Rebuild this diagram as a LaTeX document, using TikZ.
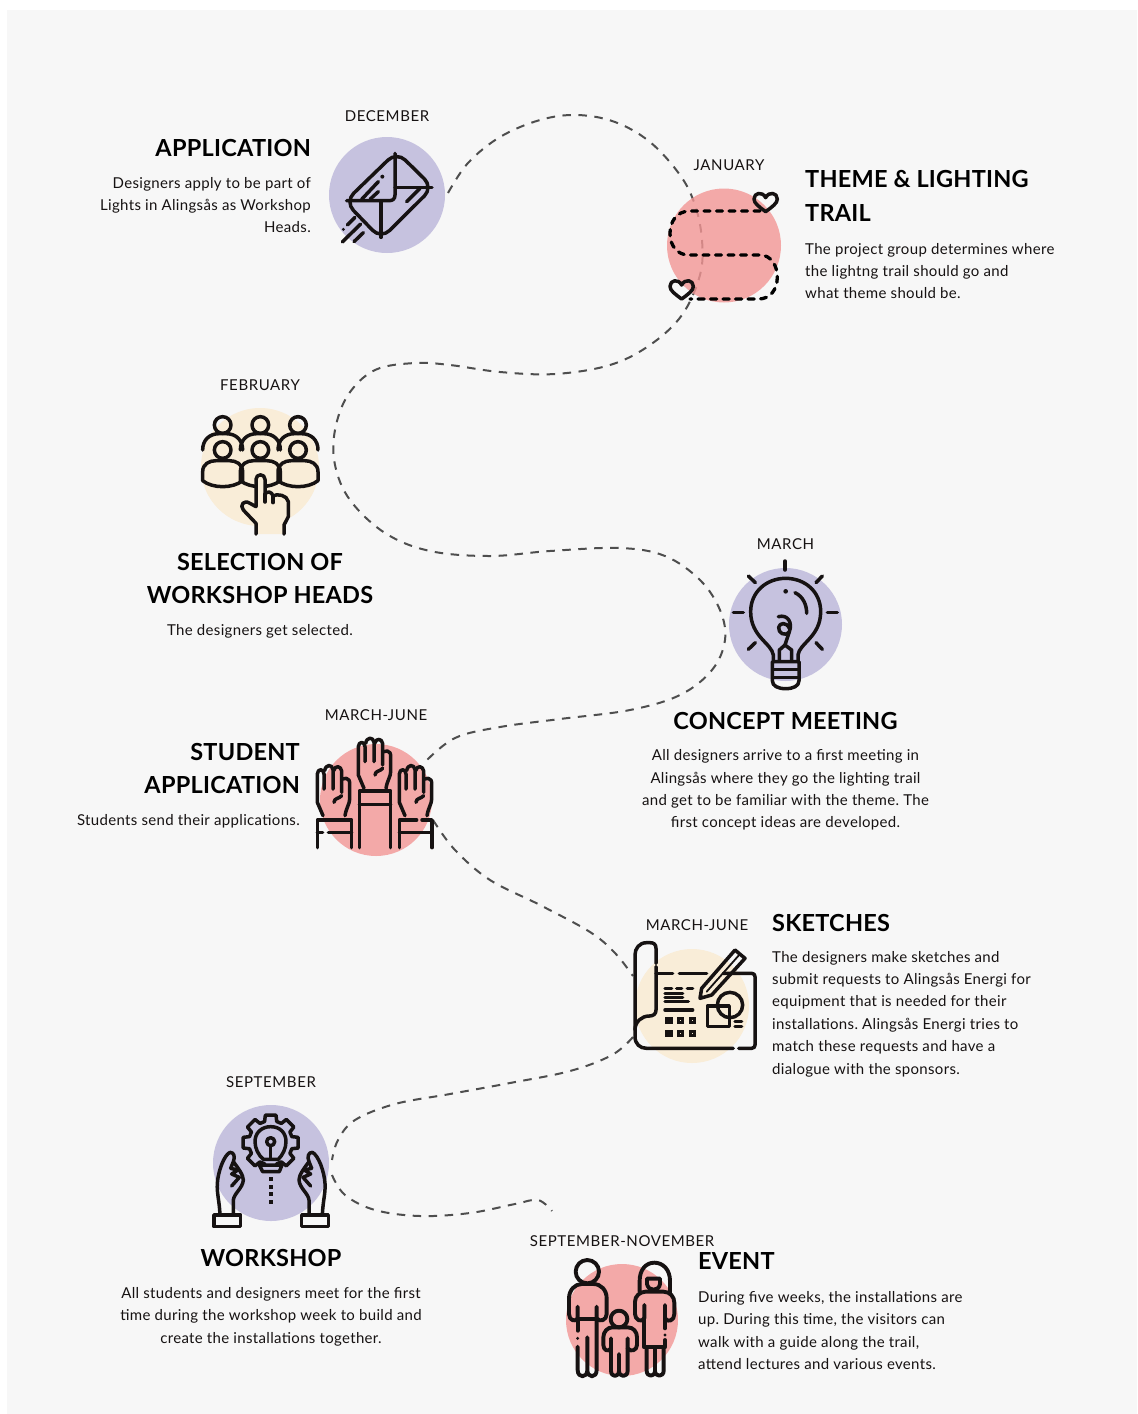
\documentclass[tikz,border=0pt]{standalone}
\usepackage{fontspec}
\setmainfont{Lato}
\newfontfamily\bodyfont[LetterSpace=2.2]{Lato}
\newfontfamily\monthfont[LetterSpace=4]{Lato}
\newfontfamily\headfont[LetterSpace=1.0]{Lato}
\frenchspacing
\definecolor{panel}{HTML}{F7F7F7}
\definecolor{lav}{HTML}{C6C2DF}
\definecolor{pinkc}{HTML}{F39695}
\definecolor{cream}{HTML}{F9EDD8}
\definecolor{ink}{HTML}{161212}
\definecolor{trailc}{HTML}{4E4E4E}
\tikzset{
  ico/.style={draw=ink,line width=3.5pt,line cap=round,line join=round},
  fam/.style={ico,line width=3.9pt},
  dot/.style={fill=ink,draw=none},
  trail/.style={draw=trailc,line width=2pt,dash pattern=on 8.5pt off 7.5pt,smooth,tension=0.6},
  disc/.style={circle,draw=none,inner sep=0pt,minimum size=#1},
  month/.style={font=\monthfont\fontsize{15}{16}\selectfont,text=ink,inner sep=0pt},
  head/.style={font=\headfont\fontsize{23.5}{33.6}\selectfont\bfseries,text=black,inner sep=0pt},
  bodyt/.style={font=\bodyfont\fontsize{15}{22.4}\selectfont,text=ink,inner sep=0pt},
}
\newcommand{\heartshape}[2]{%
  \draw[ico,shift={(#1,#2)}] (0,30) .. controls (-20,15) and (-35,5) .. (-35,-8) .. controls (-35,-27) and (-10,-32) .. (0,-12) .. controls (10,-32) and (35,-27) .. (35,-8) .. controls (35,5) and (20,15) .. (0,30) -- cycle;}
\newcommand{\raisedhand}{%
  \draw[ico] (192,190) -- (175,150) -- (175,65) .. controls (176,48) and (194,48) .. (195,65) -- (195,110);
  \draw[ico] (197,55) .. controls (200,35) and (220,35) .. (222,52) -- (222,110);
  \draw[ico] (224,55) .. controls (228,38) and (246,40) .. (248,56) -- (248,120);
  \draw[ico] (250,80) -- (262,78) .. controls (270,80) and (272,85) .. (272,95) -- (272,140) .. controls (272,155) and (262,165) .. (258,190);
  \draw[ico] (248,130) .. controls (240,140) and (226,136) .. (225,150);
}
\newcommand{\wshand}{%
  \draw[ico] (42,345) rectangle (122,380);
  \fill[panel] (50,352) rectangle (114,373);
  \draw[ico] (60,345) .. controls (58,300) and (50,280) .. (52,250) .. controls (54,215) and (72,165) .. (90,157) .. controls (102,157) and (106,170) .. (100,185) -- (92,205);
  \draw[ico] (100,185) .. controls (115,205) and (130,225) .. (130,240) .. controls (128,265) and (102,280) .. (100,300) -- (100,345);
  \draw[ico] (92,205) -- (114,210) -- (95,222) -- (118,232) -- (95,258);
}
\begin{document}
\begin{tikzpicture}[x=1pt,y=-1pt]
\useasboundingbox (0,0) rectangle (1138,1414);
\fill[white] (0,0) rectangle (1138,1414);
\fill[panel] (7,10) rectangle (1137,1414);
% trail
\draw[trail] plot coordinates {(448,193) (468,163) (500,137) (540,120) (577,115) (615,122) (650,142) (680,175) (695,205) (702,240) (700,275) (682,315) (650,345) (610,365) (555,374) (500,372) (450,365) (415,363) (375,370) (348,395) (335,430) (335,465) (350,500) (385,533) (430,551) (490,556) (550,551) (620,548) (665,556) (700,580) (720,610) (725,640) (712,670) (680,695) (630,710) (560,719) (500,727) (455,738) (425,762)};
\draw[trail] plot coordinates {(433,820) (455,850) (490,880) (540,905) (590,932) (615,953) (633,976)};
\draw[trail] plot coordinates {(633,1037) (612,1055) (570,1071) (510,1083) (450,1094) (395,1104) (355,1120) (338,1140) (332,1160)};
\draw[trail] plot coordinates {(332,1175) (345,1195) (375,1210) (420,1216) (470,1213) (515,1204) (538,1200) (552,1211)};
% discs
\node[disc=116pt,fill=lav] (cApp) at (387,195) {};
\node[disc=114pt,fill=pinkc,opacity=.8] (cTheme) at (724,245.5) {};
\node[disc=118pt,fill=cream] (cSel) at (260,467) {};
\node[disc=113pt,fill=lav] (cCon) at (785.5,624.5) {};
\node[disc=112pt,fill=pinkc,opacity=.8] (cStu) at (376,800) {};
\node[disc=114pt,fill=cream] (cSke) at (692,1006) {};
\node[disc=116pt,fill=lav] (cWor) at (271,1163) {};
\node[disc=112pt,fill=pinkc,opacity=.8] (cEve) at (622,1320) {};
% envelope
\begin{scope}[shift={(300,100)},scale=1/3]
\draw[ico,rounded corners=12pt] (290,155) -- (399,262) -- (243,417) -- (135,305) -- cycle;
\draw[ico] (285,160) -- (285,285) .. controls (285,297) and (278,302) .. (268,302) -- (140,302);
\draw[ico] (285,262) -- (396,262);
\draw[ico] (243,305) -- (243,412);
\draw[ico] (185,298) -- (235,245);
\draw[ico] (210,298) -- (235,275);
\draw[ico] (320,305) -- (360,265);
\fill[dot] (247,230) circle[radius=6];
\draw[ico] (142,375) -- (165,352);
\draw[ico] (127,426) -- (182,372);
\draw[ico] (162,425) -- (190,398);
\fill[dot] (130,388) circle[radius=5];
\end{scope}
% trail with hearts
\begin{scope}[shift={(300,100)},scale=1/3]
\draw[draw=black,line width=3.3pt,line cap=round,dash pattern=on 6pt off 6.5pt] (1380,333) -- (1170,333) .. controls (1130,333) and (1110,365) .. (1110,400) .. controls (1110,440) and (1135,465) .. (1165,465) -- (1380,465) .. controls (1415,465) and (1432,500) .. (1432,530) .. controls (1432,570) and (1410,597) .. (1375,597) -- (1170,597);
\heartshape{1397}{305}
\heartshape{1145}{567}
\end{scope}
% people
\begin{scope}[shift={(180,390)},scale=1/3]
\foreach \i in {128,241,354}{
  \draw[ico] (\i,105) circle[radius=25];
  \draw[ico] (\i-60,180) .. controls (\i-60,150) and (\i-40,131) .. (\i-10,131) -- (\i+10,131) .. controls (\i+40,131) and (\i+60,150) .. (\i+60,180);
  \draw[ico] (\i,180) circle[radius=25];
  \draw[ico] (\i-60,272) -- (\i-60,245) .. controls (\i-60,222) and (\i-40,212) .. (\i-20,212) -- (\i+20,212) .. controls (\i+40,212) and (\i+60,222) .. (\i+60,245) -- (\i+60,272) .. controls (\i+30,296) and (\i-30,296) .. (\i-60,272) -- cycle;
}
\draw[ico,fill=cream] (228,432) -- (228,400) -- (190,360) .. controls (178,345) and (192,328) .. (210,340) -- (228,350) -- (228,268) .. controls (228,250) and (255,250) .. (255,268) -- (255,312) .. controls (262,302) and (276,305) .. (279,318) .. controls (290,310) and (322,315) .. (325,335) -- (325,380) -- (312,405) -- (312,432);
\draw[ico] (255,312) -- (255,336);
\draw[ico] (279,318) -- (279,338);
\end{scope}
% bulb
\begin{scope}[shift={(710,550)},scale=1/3]
\draw[ico] (190,335) -- (190,315) .. controls (185,280) and (122,260) .. (122,185) .. controls (122,125) and (170,85) .. (227,85) .. controls (285,85) and (332,125) .. (332,185) .. controls (332,260) and (268,280) .. (264,315) -- (264,335);
\draw[ico] (187,335) -- (267,335) -- (267,392) .. controls (267,408) and (250,416) .. (227,416) .. controls (204,416) and (187,408) .. (187,392) -- cycle;
\draw[ico] (190,359) -- (264,359);
\draw[ico] (190,382) -- (264,382);
\foreach \ax/\ay/\bx/\by in {225/33/225/60,115/78/136/98,337/78/318/98,70/187/100/187,352/187/382/187,115/298/136/278,318/278/337/298}
  \draw[ico] (\ax,\ay) -- (\bx,\by);
\draw[ico] (255,128) .. controls (280,140) and (290,165) .. (290,190);
\fill[dot] (227,124) circle[radius=7];
\draw[ico] (205,200) .. controls (235,192) and (248,220) .. (238,245) .. controls (225,262) and (204,248) .. (206,232) .. controls (208,218) and (230,215) .. (238,235);
\draw[ico] (208,330) -- (208,300) -- (225,285) -- (245,300) -- (245,330);
\draw[ico] (225,285) -- (238,245);
\end{scope}
% raised hands
\begin{scope}[shift={(300,725)},scale=1/3]
\raisedhand
\draw[ico] (178,368) -- (178,198) -- (272,198) -- (272,368);
\draw[ico] (178,238) -- (272,238);
\begin{scope}[shift={(-123,82)}]\raisedhand\end{scope}
\begin{scope}[shift={(123,82)}]\raisedhand\end{scope}
\draw[ico] (52,368) -- (52,285) -- (155,285) -- (155,368);
\draw[ico] (52,322) -- (68,322);
\draw[ico] (85,322) -- (155,322);
\draw[ico] (298,368) -- (298,285) -- (350,285);
\draw[ico] (366,285) -- (396,285) -- (396,368);
\draw[ico] (298,322) -- (396,322);
\end{scope}
% sketches
\begin{scope}[shift={(620,930)},scale=1/3]
\draw[ico] (108,100) -- (108,55) .. controls (108,42) and (100,38) .. (90,38) -- (80,38) .. controls (58,38) and (45,55) .. (45,75) -- (45,320) .. controls (45,342) and (60,355) .. (80,355) -- (340,355);
\draw[ico] (108,110) -- (108,240) .. controls (108,252) and (100,258) .. (88,258) .. controls (65,258) and (45,275) .. (45,300);
\draw[ico] (356,355) -- (395,355) .. controls (402,355) and (405,350) .. (405,345) -- (405,140) .. controls (405,134) and (402,130) .. (395,130) -- (310,130);
\draw[ico] (108,130) -- (158,130);
\draw[ico] (178,130) -- (260,130);
\draw[ico] (245,175) -- (345,60) -- (375,85) -- (275,195) -- (240,205) -- cycle;
\draw[ico,line width=1.8pt] (260,185) -- (360,72);
\foreach \ax/\ay/\bx/\by in {135/175/155/175,170/175/185/175,202/175/218/175,135/190/188/190,135/202/188/202,135/215/205/215,135/240/218/240,345/275/365/275,345/290/365/290}
  \draw[ico] (\ax,\ay) -- (\bx,\by);
\foreach \i in {147,182,218}{\foreach \j in {272,310}{
  \draw[ico,line join=miter,fill=none] (\i-6,\j-6) rectangle (\i+6,\j+6);
}}
\draw[ico] (262,228) rectangle (328,290);
\draw[ico] (330,225) circle[radius=38];
\end{scope}
% workshop
\begin{scope}[shift={(200,1100)},scale=1/3]
\begin{scope}[shift={(212,128)}]
\draw[ico,fill=lav] (-11:84)
 \foreach \a in {0,45,...,315}{ -- (\a-11:84) -- (\a+11:84) -- (\a+16:66) -- (\a+29:66) } -- cycle;
\end{scope}
\draw[ico,fill=lav] (190,178) .. controls (175,165) and (165,145) .. (165,125) .. controls (165,98) and (185,80) .. (212,80) .. controls (240,80) and (258,98) .. (258,125) .. controls (258,145) and (248,165) .. (235,178) -- cycle;
\draw[ico,fill=lav] (178,195) -- (246,195) -- (238,215) -- (188,215) -- cycle;
\draw[ico] (212,125) circle[radius=12];
\draw[ico] (212,137) -- (212,176);
\foreach \j in {238,260,283,305}{\fill[dot] (206,\j-6) rectangle (218,\j+6);}
\wshand
\begin{scope}[shift={(427,0)},xscale=-1]\wshand\end{scope}
\end{scope}
% family
\begin{scope}[shift={(555,1250)},scale=1/3]
\draw[fam] (97,65) circle[radius=35];
\draw[fam] (68,170) -- (68,205) .. controls (60,218) and (42,210) .. (42,192) -- (42,145) .. controls (42,120) and (60,102) .. (80,102) -- (115,102) .. controls (138,102) and (155,120) .. (155,145) -- (155,192) .. controls (155,210) and (135,218) .. (125,205) -- (125,170);
\draw[fam] (68,207) -- (125,207);
\draw[fam] (68,290) -- (68,360) .. controls (68,385) and (97,385) .. (97,360) -- (97,262) -- (97,360) .. controls (97,385) and (125,385) .. (125,360) -- (125,207);
\draw[fam] (68,207) -- (68,242);
\fill[dot] (68,265) circle[radius=5];
\draw[fam] (192,207) circle[radius=25];
\draw[fam] (168,265) -- (168,295) .. controls (160,308) and (145,300) .. (145,285) -- (145,262) .. controls (145,245) and (158,232) .. (172,232) -- (218,232) .. controls (235,232) and (246,245) .. (246,262) -- (246,285) .. controls (246,300) and (228,308) .. (218,295) -- (218,265);
\draw[fam] (168,295) -- (168,362) .. controls (168,383) and (192,383) .. (192,362) -- (192,312) -- (192,362) .. controls (192,383) and (218,383) .. (218,362) -- (218,295);
\draw[fam] (254,125) -- (254,92) .. controls (254,60) and (272,38) .. (298,38) .. controls (325,38) and (345,60) .. (345,92) -- (345,130);
\draw[fam] (276,86) -- (315,86) -- (315,102) .. controls (312,125) and (280,125) .. (276,102) -- cycle;
\draw[fam] (268,165) -- (268,205) .. controls (258,220) and (240,208) .. (240,192) -- (240,155) .. controls (240,138) and (255,125) .. (272,125) -- (325,125) .. controls (345,125) and (358,140) .. (358,158) -- (358,192) .. controls (358,210) and (340,220) .. (330,205) -- (330,165);
\draw[fam] (268,205) -- (268,292) -- (330,292) -- (330,270);
\draw[fam] (330,205) -- (330,235);
\fill[dot] (330,255) circle[radius=5];
\draw[fam] (275,292) -- (275,362) .. controls (275,382) and (300,382) .. (300,362) -- (300,292);
\draw[fam] (300,362) .. controls (300,382) and (326,382) .. (326,362) -- (326,292);
\end{scope}
% months
\node[month] (m1) at (387,116) {DECEMBER};
\node[month] (m2) at (729,165) {JANUARY};
\node[month] (m3) at (260,385) {FEBRUARY};
\node[month] (m4) at (785.5,544) {MARCH};
\node[month] (m5) at (376,715) {MARCH-JUNE};
\node[month] (m6) at (697,925) {MARCH-JUNE};
\node[month] (m7) at (271,1082) {SEPTEMBER};
\node[month] (m8) at (622,1241) {SEPTEMBER-NOVEMBER};
% headings
\node[head,anchor=east] (h1) at (311,148) {APPLICATION};
\node[head,anchor=west,align=left] (h2) at (805,196) {THEME \& LIGHTING\\TRAIL};
\node[head,align=center] (h3) at (260,578.5) {SELECTION OF\\WORKSHOP HEADS};
\node[head] (h4) at (785.5,721) {CONCEPT MEETING};
\node[head,anchor=east,align=right] (h5) at (300,768.5) {STUDENT\\APPLICATION};
\node[head,anchor=west] (h6) at (772,923) {SKETCHES};
\node[head] (h7) at (271,1258) {WORKSHOP};
\node[head,anchor=west] (h8) at (698,1261) {EVENT};
% bodies
\node[bodyt,anchor=east,align=right] (b1) at (311,205) {Designers apply to be part of\\Lights in Alingsås as Workshop\\Heads.};
\node[bodyt,anchor=west,align=left] (b2) at (805,271) {The project group determines where\\the lightng trail should go and\\what theme should be.};
\node[bodyt] (b3) at (260,631) {The designers get selected.};
\node[bodyt,align=center] (b4) at (785.5,790) {All designers arrive to a first meeting in\\Alingsås where they go the lighting trail\\and get to be familiar with the theme. The\\first concept ideas are developed.};
\node[bodyt,anchor=east] (b5) at (300,821.5) {Students send their applications.};
\node[bodyt,anchor=west,align=left] (b6) at (772,1014) {The designers make sketches and\\submit requests to Alingsås Energi for\\equipment that is needed for their\\installations. Alingsås Energi tries to\\match these requests and have a\\dialogue with the sponsors.};
\node[bodyt,align=center] (b7) at (271,1316.5) {All students and designers meet for the first\\time during the workshop week to build and\\create the installations together.};
\node[bodyt,anchor=west,align=left] (b8) at (698,1330.5) {During five weeks, the installations are\\up. During this time, the visitors can\\walk with a guide along the trail,\\attend lectures and various events.};
\end{tikzpicture}
\end{document}
